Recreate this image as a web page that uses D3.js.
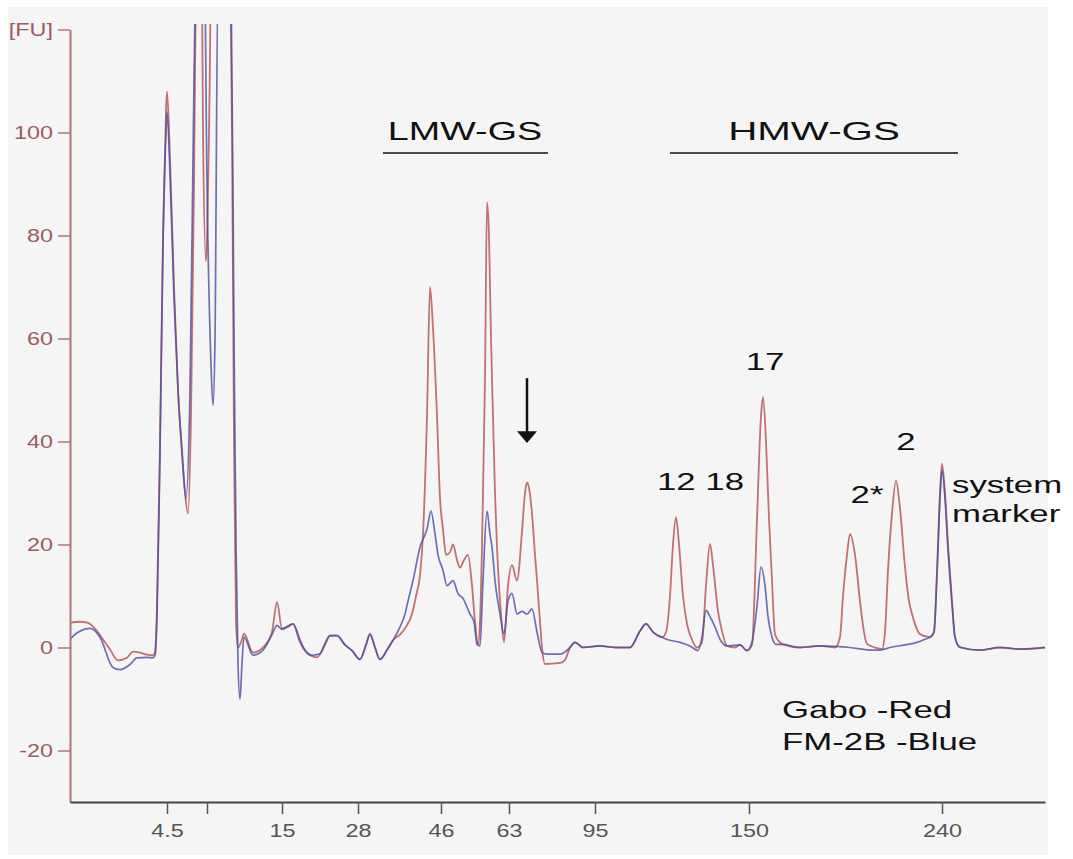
<!DOCTYPE html>
<html>
<head>
<meta charset="utf-8">
<script src="https://cdn.jsdelivr.net/npm/d3@7/dist/d3.min.js"></script>
<style>
  body { margin: 0; background: #fff; }
  text { font-family: "Liberation Sans", Arial, sans-serif; }
</style>
</head>
<body>
<script>
// migration time (s) vs fluorescence [FU]
var gaboRed = [[14.00,4.8],[14.40,5.0],[14.72,4.8],[15.08,3.2],[15.40,1.0],[15.60,-0.4],[15.92,-2.5],[16.28,-2.0],[16.52,-0.8],[16.80,-1.0],[17.08,-1.4],[17.32,-1.5],[17.40,-1.0],[17.48,8],[17.60,40],[17.72,80],[17.84,104],[17.88,108],[18.00,95],[18.16,70],[18.32,50],[18.48,38],[18.60,30],[18.72,26],[18.84,45],[18.96,90],[19.04,130],[19.24,150],[19.32,100],[19.44,75],[19.56,100],[19.68,140],[20.32,140],[20.48,100],[20.56,40],[20.64,5],[20.72,0],[20.84,1],[20.96,2.7],[21.32,-1],[21.72,0],[22.08,3],[22.28,8.8],[22.48,3.7],[22.72,4],[22.92,4.6],[23.20,1],[23.52,-1.2],[23.88,-1.9],[24.20,0.5],[24.40,2.3],[24.68,2.3],[25.00,0.5],[25.28,-0.6],[25.60,-2.3],[25.84,0.5],[26.00,2.7],[26.20,0],[26.40,-2.3],[26.68,-0.5],[26.92,1.4],[27.20,2.5],[27.44,4],[27.68,6.5],[27.84,10],[28.00,14],[28.12,22],[28.28,45],[28.40,70],[28.52,62],[28.68,45],[28.80,29],[28.92,23],[29.04,18],[29.20,18.5],[29.32,20],[29.48,17],[29.60,15.5],[29.76,17],[29.92,18],[30.08,12],[30.20,5],[30.32,0.5],[30.40,5],[30.48,19.5],[30.60,52],[30.68,86.5],[30.76,80],[30.84,60],[30.92,45],[31.00,30],[31.08,19.5],[31.24,6.5],[31.36,1],[31.52,12],[31.68,16],[31.88,13],[32.08,22.5],[32.20,30],[32.28,32],[32.36,31],[32.48,26],[32.60,18],[32.68,13],[32.80,5],[32.88,0],[33.00,-3.2],[33.60,-3],[33.80,-2.4],[34.00,0],[34.20,1],[34.52,0],[35.20,0.3],[35.80,0],[36.40,0],[36.80,3.2],[37.04,4.6],[37.32,3],[37.68,2],[37.84,3],[38.00,10],[38.12,20],[38.24,25.3],[38.36,20],[38.52,10],[38.68,4.6],[38.88,1.5],[39.08,0],[39.28,1],[39.44,12],[39.60,20.1],[39.72,16],[39.92,7],[40.08,3.2],[40.28,0.3],[40.60,0],[40.80,0.5],[41.08,-0.6],[41.28,0.5],[41.48,25],[41.64,45],[41.72,48.6],[41.84,40],[41.96,25],[42.08,13],[42.20,2.5],[42.52,0.6],[43.20,0],[44.00,0.3],[44.60,0],[44.80,2],[44.92,10],[45.08,18],[45.20,22],[45.40,18],[45.60,9],[45.76,3],[45.88,0.7],[46.20,0],[46.48,-0.3],[46.60,3],[46.72,15],[46.88,26],[47.04,32.4],[47.20,27],[47.40,15.6],[47.56,9],[47.68,6.5],[47.84,4],[48.00,2.6],[48.40,2],[48.56,3],[48.68,15],[48.80,30],[48.88,35.7],[49.00,30],[49.12,20],[49.28,9],[49.40,2],[49.60,0.1],[50.40,-0.5],[51.20,0],[52.00,-0.3],[53.00,0]];

var fm2bBlue = [[14.00,1.5],[14.08,2],[14.80,3.7],[15.20,2],[15.72,-3.9],[16.00,-4.3],[16.40,-3.3],[16.68,-2],[17.08,-1.9],[17.32,-2],[17.40,-1.5],[17.48,6],[17.60,38],[17.72,78],[17.84,100],[17.88,104],[18.00,92],[18.16,68],[18.32,50],[18.48,38],[18.64,29],[18.80,50],[18.96,110],[19.08,140],[19.36,140],[19.48,90],[19.64,55],[19.72,47],[19.80,60],[19.92,130],[20.44,130],[20.56,60],[20.64,20],[20.72,-3],[20.80,-10],[20.88,-3],[20.96,2],[21.32,-1.5],[21.72,-0.5],[22.08,2.5],[22.28,4.3],[22.48,3.5],[22.72,4.2],[22.92,4.6],[23.20,1.5],[23.40,-0.5],[23.68,-1.5],[24.00,-1.2],[24.20,0.8],[24.40,2.3],[24.68,2.3],[25.00,0.5],[25.28,-0.6],[25.60,-2.3],[25.84,0.5],[26.00,2.5],[26.20,0],[26.40,-2.3],[26.68,-0.5],[26.92,1.4],[27.20,4],[27.40,6.5],[27.52,9],[27.72,13],[28.00,19.5],[28.28,23],[28.44,26.5],[28.60,22],[28.72,18],[28.92,15],[29.08,12],[29.32,13],[29.52,10.5],[29.72,9.5],[30.00,6.5],[30.16,5],[30.28,0.6],[30.40,0.3],[30.52,13],[30.68,26.5],[30.80,22],[30.88,19.5],[31.00,13],[31.20,6.5],[31.36,2.6],[31.52,9],[31.68,10.5],[31.88,6.5],[32.08,7],[32.28,6.5],[32.48,7.5],[32.68,3],[32.88,-1],[33.08,-1.3],[33.60,-1.3],[34.00,0],[34.20,1],[34.52,0],[35.20,0.3],[35.80,0],[36.40,0],[36.80,3.2],[37.04,4.6],[37.32,3],[37.68,2],[37.92,1.5],[38.40,1],[38.80,0.3],[39.12,-0.6],[39.28,2],[39.44,7.2],[39.60,6],[39.80,4],[40.00,1.6],[40.28,0.3],[40.80,0.5],[41.08,-0.6],[41.28,1],[41.48,8],[41.64,15.6],[41.80,12],[41.92,6],[42.08,2],[42.24,0.6],[42.52,0.6],[43.20,0],[44.00,0.3],[44.60,0.2],[45.20,0],[46.00,-0.5],[46.40,-0.5],[46.80,0],[47.40,0.5],[47.88,1],[48.20,1.6],[48.40,2],[48.56,3],[48.68,14],[48.80,29],[48.88,34.5],[49.00,29],[49.12,19],[49.28,8.5],[49.40,2],[49.60,0],[50.40,-0.5],[51.20,0],[52.00,-0.3],[53.00,0]];

var yTickValues = [-20, 0, 20, 40, 60, 80, 100, 120];
var yTickLabels = ["-20", "0", "20", "40", "60", "80", "100", "[FU]"];
// ladder sizes (kDa) sit at these migration times
var xTickTimes = [17.88, 19.48, 22.48, 25.52, 28.84, 31.56, 35.00, 41.16, 48.88];
var xTickLabels = ["4.5", "", "15", "28", "46", "63", "95", "150", "240"];

var width = 1073,
    height = 859;

var x = d3.scaleLinear().domain([14, 53]).range([70, 1045]);
var y = d3.scaleLinear().domain([-30, 120]).range([802, 29.5]);

var svg = d3.select("body").append("svg")
    .attr("width", width)
    .attr("height", height);

svg.append("rect")
    .attr("x", 8).attr("y", 7)
    .attr("width", 1040).attr("height", 848)
    .attr("fill", "#f5f5f5");

// the old figure is stretched sideways, so text is too
function wideText(g, str, px, py, size, anchor, sx) {
  return g.append("text")
      .attr("transform", "translate(" + px + "," + py + ") scale(" + sx + ",1)")
      .attr("text-anchor", anchor)
      .style("font-size", size + "px")
      .text(str);
}

svg.append("clipPath").attr("id", "plot")
  .append("rect")
    .attr("x", 70).attr("y", 24)
    .attr("width", 976).attr("height", 778);

var line = d3.line()
    .curve(d3.curveMonotoneX)
    .x(function(d) { return x(d[0]); })
    .y(function(d) { return y(d[1]); });

var traces = svg.append("g").attr("clip-path", "url(#plot)");
traces.append("path")
    .datum(gaboRed)
    .attr("fill", "none")
    .attr("stroke", "#b85858")
    .attr("stroke-opacity", 0.85)
    .attr("stroke-width", 1.8)
    .attr("d", line);
traces.append("path")
    .datum(fm2bBlue)
    .attr("fill", "none")
    .attr("stroke", "#4e4ea2")
    .attr("stroke-opacity", 0.8)
    .attr("stroke-width", 1.7)
    .attr("d", line);

var sxTick = 1.3;

// y axis
var yAxis = svg.append("g")
    .attr("transform", "translate(70,0)")
    .call(d3.axisLeft(y)
      .tickValues(yTickValues)
      .tickFormat(function(d, i) { return yTickLabels[i]; })
      .tickSize(12).tickPadding(5).tickSizeOuter(0));
yAxis.select(".domain").attr("stroke", "#b07676").attr("stroke-width", 2);
yAxis.selectAll(".tick line").attr("stroke", "#b07676").attr("stroke-width", 1.5);
yAxis.selectAll(".tick text")
    .attr("fill", "#9c5c5c")
    .attr("font-family", null)
    .style("font-size", "18px")
    .attr("x", -17 / sxTick)
    .attr("transform", "scale(" + sxTick + ",1)");

// x axis
var xAxis = svg.append("g")
    .attr("transform", "translate(0,802)")
    .call(d3.axisBottom(x)
      .tickValues(xTickTimes)
      .tickFormat(function(d, i) { return xTickLabels[i]; })
      .tickSize(12).tickPadding(10).tickSizeOuter(0));
xAxis.select(".domain").attr("stroke", "#444").attr("stroke-width", 2);
xAxis.selectAll(".tick line").attr("stroke", "#555").attr("stroke-width", 1.5);
xAxis.selectAll(".tick text")
    .attr("fill", "#555")
    .attr("font-family", null)
    .style("font-size", "18px")
    .attr("transform", "scale(" + sxTick + ",1)");

// group labels with bars
var notes = svg.append("g").attr("fill", "#111");
wideText(notes, "LMW-GS", x(29.8), y(98.5), 26, "middle", 1.45);
wideText(notes, "HMW-GS", x(43.76), y(98.5), 26, "middle", 1.55);
notes.append("line")
    .attr("x1", x(26.52)).attr("x2", x(33.12))
    .attr("y1", y(96)).attr("y2", y(96))
    .attr("stroke", "#111").attr("stroke-width", 1.5);
notes.append("line")
    .attr("x1", x(38.0)).attr("x2", x(49.52))
    .attr("y1", y(96)).attr("y2", y(96))
    .attr("stroke", "#111").attr("stroke-width", 1.5);

// arrow at the extra LMW band
var ax = x(32.28);
notes.append("line")
    .attr("x1", ax).attr("x2", ax)
    .attr("y1", y(52.3)).attr("y2", y(41.5))
    .attr("stroke", "#111").attr("stroke-width", 2.5);
notes.append("path")
    .attr("d", "M" + (ax - 10) + "," + y(42) + "L" + (ax + 10) + "," + y(42) + "L" + ax + "," + y(39.7) + "Z")
    .attr("fill", "#111");

// subunit labels
wideText(notes, "17", x(41.8), y(53.9), 24, "middle", 1.45);
wideText(notes, "12 18", x(37.48), y(30.6), 24, "start", 1.45);
wideText(notes, "2", x(47.44), y(38.3), 24, "middle", 1.45);
wideText(notes, "2*", x(45.88), y(28.1), 24, "middle", 1.45);
wideText(notes, "system", x(49.28), y(30), 24, "start", 1.45);
wideText(notes, "marker", x(49.28), y(24.4), 24, "start", 1.45);

// legend text
wideText(notes, "Gabo -Red", x(42.48), y(-13.7), 24, "start", 1.45);
wideText(notes, "FM-2B -Blue", x(42.48), y(-19.9), 24, "start", 1.45);
</script>
</body>
</html>
